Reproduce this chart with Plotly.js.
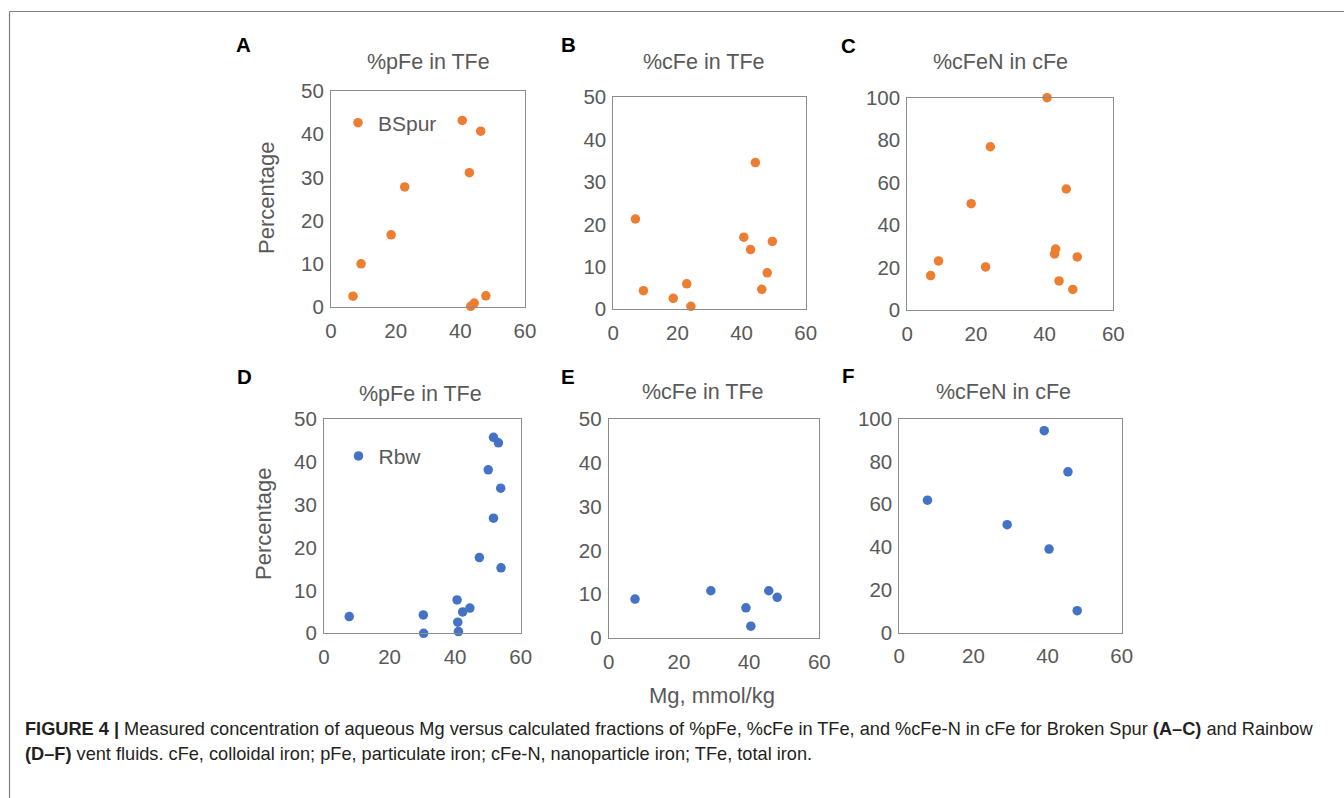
<!DOCTYPE html>
<html><head><meta charset="utf-8">
<script src="https://cdn.plot.ly/plotly-3.0.1.min.js"></script>
<style>html,body{margin:0;padding:0;background:#fff}#chart{width:1344px;height:798px}</style>
</head><body><div id="chart"></div>
<script>
// ---- data ----
const xTicks = [0, 20, 40, 60];
const yTicks50 = [0, 10, 20, 30, 40, 50];
const yTicks100 = [0, 20, 40, 60, 80, 100];
const panelLetters = ['A', 'B', 'C', 'D', 'E', 'F'];
const panelTitles = ['%pFe in TFe', '%cFe in TFe', '%cFeN in cFe', '%pFe in TFe', '%cFe in TFe', '%cFeN in cFe'];
const seriesNames = ['BSpur', 'Rbw'];
const yAxisTitle = 'Percentage';
const xAxisTitle = 'Mg, mmol/kg';

// Broken Spur
const bspurPFeMg  = [6.8, 9.3, 18.6, 22.8, 40.6, 42.8, 43.2, 44.3, 46.3, 47.9];
const bspurPFe    = [2.5, 10.0, 16.7, 27.8, 43.2, 31.1, 0.15, 0.9, 40.7, 2.6];
const bspurCFeMg  = [6.9, 9.4, 18.7, 22.9, 24.2, 40.7, 42.8, 44.3, 46.3, 48.0, 49.6];
const bspurCFe    = [21.3, 4.4, 2.6, 6.0, 0.7, 17.0, 14.1, 34.6, 4.7, 8.6, 16.0];
const bspurCFeNMg = [6.8, 9.1, 18.6, 22.8, 24.2, 40.7, 42.9, 43.2, 44.2, 46.3, 48.2, 49.5];
const bspurCFeN   = [16.2, 23.1, 50.1, 20.3, 76.9, 100, 26.4, 28.7, 13.7, 57.0, 9.7, 25.0];
// Rainbow
const rbwPFeMg  = [7.7, 30.3, 30.4, 40.6, 40.8, 41.0, 42.3, 44.5, 47.4, 50.1, 51.7, 51.7, 53.2, 53.9, 54.0];
const rbwPFe    = [3.9, 4.3, 0.0, 7.8, 2.6, 0.4, 5.0, 5.9, 17.7, 38.2, 45.8, 26.9, 44.5, 33.9, 15.3];
const rbwCFeMg  = [7.5, 29.1, 39.1, 40.5, 45.6, 48.0];
const rbwCFe    = [8.9, 10.8, 6.9, 2.7, 10.8, 9.3];
const rbwCFeNMg = [7.6, 29.1, 39.1, 40.4, 45.5, 48.0];
const rbwCFeN   = [61.9, 50.5, 94.4, 39.1, 75.2, 10.3];

const captionLine1 = '<b>FIGURE 4 |</b> Measured concentration of aqueous Mg versus calculated fractions of %pFe, %cFe in TFe, and %cFe-N in cFe for Broken Spur <b>(A–C)</b> and Rainbow';
const captionLine2 = '<b>(D–F)</b> vent fluids. cFe, colloidal iron; pFe, particulate iron; cFe-N, nanoparticle iron; TFe, total iron.';

// ---- layout helpers ----
const W = 1344, H = 798;
const px = v => v / W;
const py = v => 1 - v / H;
const ORANGE = '#ED7D31', BLUE = '#4472C4';
const FONT = 'Liberation Sans, Arial, sans-serif';
const GREY_TXT = '#595959';
const AXIS_LINE = '#8c8c8c';
const TICK_SIZE = 20.5, TITLE_SIZE = 21.5;

// plot boxes in pixels [left, right, top, bottom]
const boxes = [
  [331, 525, 91, 307],
  [613.3, 805.7, 97.3, 309.3],
  [907.3, 1113.3, 97.7, 310],
  [324, 520.7, 419.3, 633.3],
  [608.7, 819.3, 419.3, 638],
  [899.3, 1121.7, 418.7, 632.7]
];
const titlePos = [[428, 62], [703, 62], [1000.5, 62], [420, 394], [702, 392.5], [1003.7, 392]];
const letterPos = [[243.5, 45], [568.5, 45], [848.5, 45.5], [244, 377], [567.5, 377], [848.5, 375.5]];

const seriesX = [bspurPFeMg, bspurCFeMg, bspurCFeNMg, rbwPFeMg, rbwCFeMg, rbwCFeNMg];
const seriesY = [bspurPFe, bspurCFe, bspurCFeN, rbwPFe, rbwCFe, rbwCFeN];
const yMax = [50, 50, 100, 50, 50, 100];

const traces = [];
const layout = {
  width: W, height: H,
  margin: {l: 0, r: 0, t: 0, b: 0},
  paper_bgcolor: '#fff', plot_bgcolor: '#fff',
  font: {family: FONT, color: GREY_TXT, size: 19},
  showlegend: true,
  annotations: [], shapes: []
};

for (let i = 0; i < 6; i++) {
  const n = i === 0 ? '' : String(i + 1);
  const b = boxes[i];
  const isB = i < 3;
  traces.push({
    type: 'scatter', mode: 'markers',
    x: seriesX[i], y: seriesY[i],
    xaxis: 'x' + n, yaxis: 'y' + n,
    name: isB ? seriesNames[0] : seriesNames[1],
    showlegend: i === 0 || i === 3,
    legend: i === 3 ? 'legend2' : 'legend',
    cliponaxis: false,
    marker: {color: isB ? ORANGE : BLUE, size: 9.5, line: {width: 0}},
    hoverinfo: 'x+y'
  });
  layout['xaxis' + n] = {
    domain: [px(b[0]), px(b[1])], anchor: 'y' + n,
    range: [0, 60], tickvals: xTicks, ticktext: xTicks.map(String),
    showline: true, mirror: true, linecolor: AXIS_LINE, linewidth: 1,
    showgrid: false, zeroline: false, ticks: '', ticklabelstandoff: 5,
    tickfont: {family: FONT, size: TICK_SIZE, color: GREY_TXT}, fixedrange: true
  };
  const yt = yMax[i] === 50 ? yTicks50 : yTicks100;
  layout['yaxis' + n] = {
    domain: [py(b[3]), py(b[2])], anchor: 'x' + n,
    range: [0, yMax[i]], tickvals: yt, ticktext: yt.map(String),
    showline: true, mirror: true, linecolor: AXIS_LINE, linewidth: 1,
    showgrid: false, zeroline: false, ticks: '', ticklabelstandoff: 2,
    tickfont: {family: FONT, size: TICK_SIZE, color: GREY_TXT}, fixedrange: true
  };
  layout.annotations.push({
    text: panelTitles[i], xref: 'paper', yref: 'paper',
    x: px(titlePos[i][0]), y: py(titlePos[i][1]), xanchor: 'center', yanchor: 'middle',
    showarrow: false, font: {family: FONT, size: TITLE_SIZE, color: GREY_TXT}
  });
  layout.annotations.push({
    text: '<b>' + panelLetters[i] + '</b>', xref: 'paper', yref: 'paper',
    x: px(letterPos[i][0]), y: py(letterPos[i][1]), xanchor: 'center', yanchor: 'middle',
    showarrow: false, font: {family: FONT, size: 20.5, color: '#000'}
  });
}

// axis titles
layout.annotations.push({text: yAxisTitle, textangle: -90, xref: 'paper', yref: 'paper',
  x: px(266), y: py(198), xanchor: 'center', yanchor: 'middle', showarrow: false,
  font: {family: FONT, size: 22, color: GREY_TXT}});
layout.annotations.push({text: yAxisTitle, textangle: -90, xref: 'paper', yref: 'paper',
  x: px(263), y: py(524), xanchor: 'center', yanchor: 'middle', showarrow: false,
  font: {family: FONT, size: 22, color: GREY_TXT}});
layout.annotations.push({text: xAxisTitle, xref: 'paper', yref: 'paper',
  x: px(712), y: py(695), xanchor: 'center', yanchor: 'middle', showarrow: false,
  font: {family: FONT, size: 22, color: GREY_TXT}});

// caption
layout.annotations.push({text: captionLine1, xref: 'paper', yref: 'paper',
  x: px(23), y: py(729), xanchor: 'left', yanchor: 'middle', showarrow: false, align: 'left',
  font: {family: FONT, size: 18.2, color: '#231f20'}});
layout.annotations.push({text: captionLine2, xref: 'paper', yref: 'paper',
  x: px(23), y: py(754), xanchor: 'left', yanchor: 'middle', showarrow: false, align: 'left',
  font: {family: FONT, size: 18.2, color: '#231f20'}});

// figure frame (top and left edges)
layout.shapes.push({type: 'line', xref: 'paper', yref: 'paper', x0: px(9.5), x1: 1, y0: py(11.5), y1: py(11.5),
  line: {color: '#7f7f7f', width: 1.2}});
layout.shapes.push({type: 'line', xref: 'paper', yref: 'paper', x0: px(9.5), x1: px(9.5), y0: 0, y1: py(11.5),
  line: {color: '#7f7f7f', width: 1.2}});

// legends
layout.legend = {x: px(338), y: py(123), xanchor: 'left', yanchor: 'middle',
  bgcolor: 'rgba(0,0,0,0)', borderwidth: 0, font: {family: FONT, size: 21, color: GREY_TXT}};
layout.legend2 = {x: px(338.5), y: py(456.3), xanchor: 'left', yanchor: 'middle',
  bgcolor: 'rgba(0,0,0,0)', borderwidth: 0, font: {family: FONT, size: 21, color: GREY_TXT}};

Plotly.newPlot('chart', traces, layout, {displayModeBar: false, staticPlot: true});
</script></body></html>
